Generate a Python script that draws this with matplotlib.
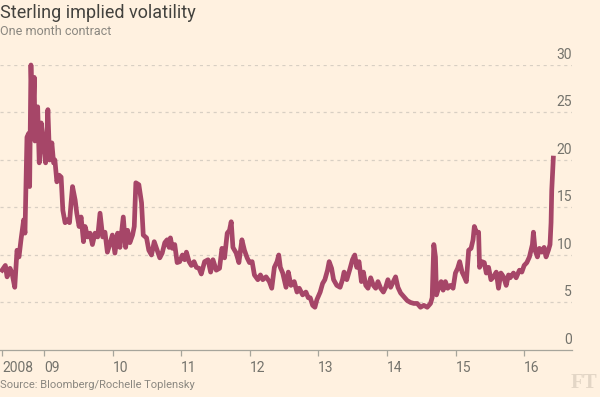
import matplotlib
matplotlib.use("Agg")
import matplotlib.pyplot as plt
import matplotlib.transforms as mtransforms

# one-month implied vol, time in fractional years
years = [
    2008.390, 2008.438, 2008.463, 2008.506, 2008.535, 2008.575, 2008.608, 2008.637,
    2008.666, 2008.705, 2008.724, 2008.753, 2008.778, 2008.792, 2008.811, 2008.836,
    2008.859, 2008.869, 2008.909, 2008.932, 2008.961, 2008.996, 2009.025, 2009.058,
    2009.083, 2009.116, 2009.141, 2009.160, 2009.189, 2009.222, 2009.251, 2009.276,
    2009.309, 2009.344, 2009.373, 2009.396, 2009.417, 2009.455, 2009.479, 2009.513,
    2009.542, 2009.577, 2009.600, 2009.639, 2009.672, 2009.707, 2009.745, 2009.784,
    2009.818, 2009.857, 2009.890, 2009.925, 2009.963, 2009.998, 2010.035, 2010.075,
    2010.108, 2010.157, 2010.191, 2010.220, 2010.253, 2010.292, 2010.317, 2010.340,
    2010.384, 2010.423, 2010.448, 2010.496, 2010.529, 2010.568, 2010.608, 2010.641,
    2010.689, 2010.724, 2010.762, 2010.796, 2010.825, 2010.844, 2010.873, 2010.907,
    2010.942, 2010.979, 2011.019, 2011.052, 2011.077, 2011.116, 2011.149, 2011.188,
    2011.222, 2011.261, 2011.294, 2011.342, 2011.392, 2011.430, 2011.464, 2011.512,
    2011.560, 2011.595, 2011.633, 2011.672, 2011.705, 2011.730, 2011.755, 2011.803,
    2011.842, 2011.886, 2011.923, 2011.962, 2011.996, 2012.035, 2012.068, 2012.118,
    2012.156, 2012.190, 2012.238, 2012.286, 2012.321, 2012.359, 2012.398, 2012.423,
    2012.446, 2012.481, 2012.529, 2012.562, 2012.601, 2012.649, 2012.689, 2012.722,
    2012.771, 2012.819, 2012.853, 2012.882, 2012.917, 2012.950, 2012.979, 2013.027,
    2013.062, 2013.095, 2013.134, 2013.158, 2013.193, 2013.222, 2013.269, 2013.317,
    2013.352, 2013.375, 2013.415, 2013.463, 2013.497, 2013.531, 2013.560, 2013.593,
    2013.628, 2013.657, 2013.691, 2013.724, 2013.763, 2013.802, 2013.836, 2013.869,
    2013.908, 2013.948, 2013.981, 2014.014, 2014.054, 2014.093, 2014.126, 2014.160,
    2014.199, 2014.247, 2014.296, 2014.344, 2014.392, 2014.441, 2014.489, 2014.537,
    2014.587, 2014.635, 2014.659, 2014.683, 2014.707, 2014.722, 2014.755, 2014.790,
    2014.819, 2014.852, 2014.886, 2014.925, 2014.964, 2014.998, 2015.031, 2015.060,
    2015.095, 2015.128, 2015.157, 2015.191, 2015.226, 2015.255, 2015.274, 2015.303,
    2015.336, 2015.350, 2015.385, 2015.419, 2015.448, 2015.481, 2015.516, 2015.554,
    2015.593, 2015.626, 2015.661, 2015.699, 2015.738, 2015.772, 2015.796, 2015.844,
    2015.883, 2015.931, 2015.966, 2016.000, 2016.039, 2016.077, 2016.101, 2016.120,
    2016.135, 2016.159, 2016.193, 2016.222, 2016.257, 2016.290, 2016.319, 2016.353,
    2016.377, 2016.392, 2016.402, 2016.416, 2016.425,
]
vol = [
    8.4, 8.9, 7.7, 8.6, 8.1, 6.6, 10.5, 9.8,
    11.6, 13.7, 12.3, 22.4, 22.8, 17.2, 30.0, 23.5,
    28.7, 22.0, 25.6, 19.7, 23.9, 21.4, 19.7, 25.3,
    20.0, 21.8, 19.7, 20.0, 17.7, 18.4, 18.2, 14.7,
    13.4, 13.7, 13.4, 15.5, 17.2, 15.8, 14.4, 13.0,
    14.0, 11.4, 13.0, 11.9, 12.3, 11.1, 12.3, 11.9,
    14.4, 11.9, 12.4, 10.3, 11.2, 12.1, 10.2, 12.3,
    10.8, 14.0, 10.8, 12.6, 11.3, 12.1, 13.0, 17.6,
    17.4, 15.5, 12.1, 11.8, 10.5, 10.0, 11.4, 10.7,
    9.7, 10.2, 11.3, 11.6, 10.8, 11.8, 10.7, 11.1,
    9.2, 9.3, 10.0, 9.5, 10.3, 9.3, 8.9, 9.3,
    8.7, 8.6, 8.0, 9.3, 9.5, 8.2, 9.5, 8.4,
    8.6, 10.7, 9.7, 12.3, 12.6, 13.5, 10.8, 10.2,
    9.2, 11.6, 10.5, 9.7, 9.2, 9.3, 7.9, 7.4,
    7.9, 7.4, 7.7, 7.2, 6.5, 8.7, 9.3, 10.0,
    8.7, 8.1, 6.6, 8.2, 6.8, 7.2, 6.1, 6.5,
    5.8, 6.1, 5.5, 5.5, 4.7, 4.5, 5.3, 6.1,
    7.0, 7.4, 8.4, 9.3, 8.6, 7.4, 6.8, 6.6,
    7.4, 8.2, 7.4, 8.6, 9.5, 10.0, 8.7, 9.3,
    7.2, 8.2, 6.8, 6.5, 7.6, 6.8, 6.5, 7.2,
    6.5, 6.1, 6.6, 7.4, 6.6, 7.2, 7.7, 6.6,
    6.0, 5.6, 5.2, 5.0, 4.9, 4.9, 4.5, 4.7,
    4.5, 4.9, 5.5, 11.1, 9.8, 5.8, 6.6, 7.2,
    6.3, 7.2, 6.5, 6.8, 6.5, 8.1, 8.6, 9.3,
    8.2, 7.7, 7.2, 10.5, 10.7, 11.6, 13.0, 12.4,
    12.4, 8.7, 9.3, 9.2, 8.1, 8.7, 7.4, 7.7,
    8.2, 6.5, 8.1, 7.7, 6.8, 7.9, 7.6, 8.1,
    7.6, 8.4, 8.2, 8.9, 9.2, 9.8, 10.5, 11.1,
    12.4, 10.5, 9.8, 10.7, 10.3, 10.8, 9.8, 10.5,
    11.1, 13.4, 16.8, 18.9, 20.2,
]
tick_pos = [2008.39, 2009, 2010, 2011, 2012, 2013, 2014, 2015, 2016]
tick_labels = ["2008", "09", "10", "11", "12", "13", "14", "15", "16"]
y_ticks = [0, 5, 10, 15, 20, 25, 30]

bg = "#fff1e0"
line_col = "#a64668"
grey = "#74736c"

plt.rcParams["font.family"] = ["Roboto", "DejaVu Sans"]

fig = plt.figure(figsize=(6, 3.97), dpi=100, facecolor=bg)
ax = fig.add_axes([0.0, 0.1184, 0.9533, 0.7179], facecolor=bg)

ax.plot(years, vol, color=line_col, lw=3.4, solid_joinstyle="round", clip_on=False, zorder=3)

ax.set_xlim(2008.36, 2016.697)
ax.set_ylim(0, 30)

for s in ["top", "right", "left"]:
    ax.spines[s].set_visible(False)
ax.spines["bottom"].set_color("#a7a59b")
ax.spines["bottom"].set_linewidth(0.9)

ax.set_yticks([])
for v in y_ticks[1:]:
    ax.axhline(v, color="#d8cfc3", lw=0.9, ls=(0, (2.5, 3)), zorder=1)

trans = mtransforms.blended_transform_factory(ax.transAxes, ax.transData)
for v in y_ticks:
    ax.annotate(str(v), xy=(1.0, v), xycoords=trans, xytext=(0, 2.5),
                textcoords="offset points", ha="right", va="bottom",
                fontsize=10, color=grey)

ax.set_xticks(tick_pos)
ax.set_xticklabels(tick_labels, ha="left", fontsize=10, color=grey)
ax.tick_params(axis="x", length=4, width=0.9, color="#a7a59b", pad=4)

fig.text(0.0, 0.99, "Sterling implied volatility", fontsize=13, color="#43423e",
         ha="left", va="top")
fig.text(0.0, 0.937, "One month contract", fontsize=9, color="#8a8780",
         ha="left", va="top")
fig.text(0.0, 0.018, "Source: Bloomberg/Rochelle Toplensky", fontsize=8, color="#8a8780",
         ha="left", va="bottom")
fig.text(0.995, 0.01, "FT", fontsize=15, color="#e3d6c6", ha="right", va="bottom",
         family="Liberation Serif", weight="bold")

fig.savefig("out.png", dpi=100, facecolor=bg)
